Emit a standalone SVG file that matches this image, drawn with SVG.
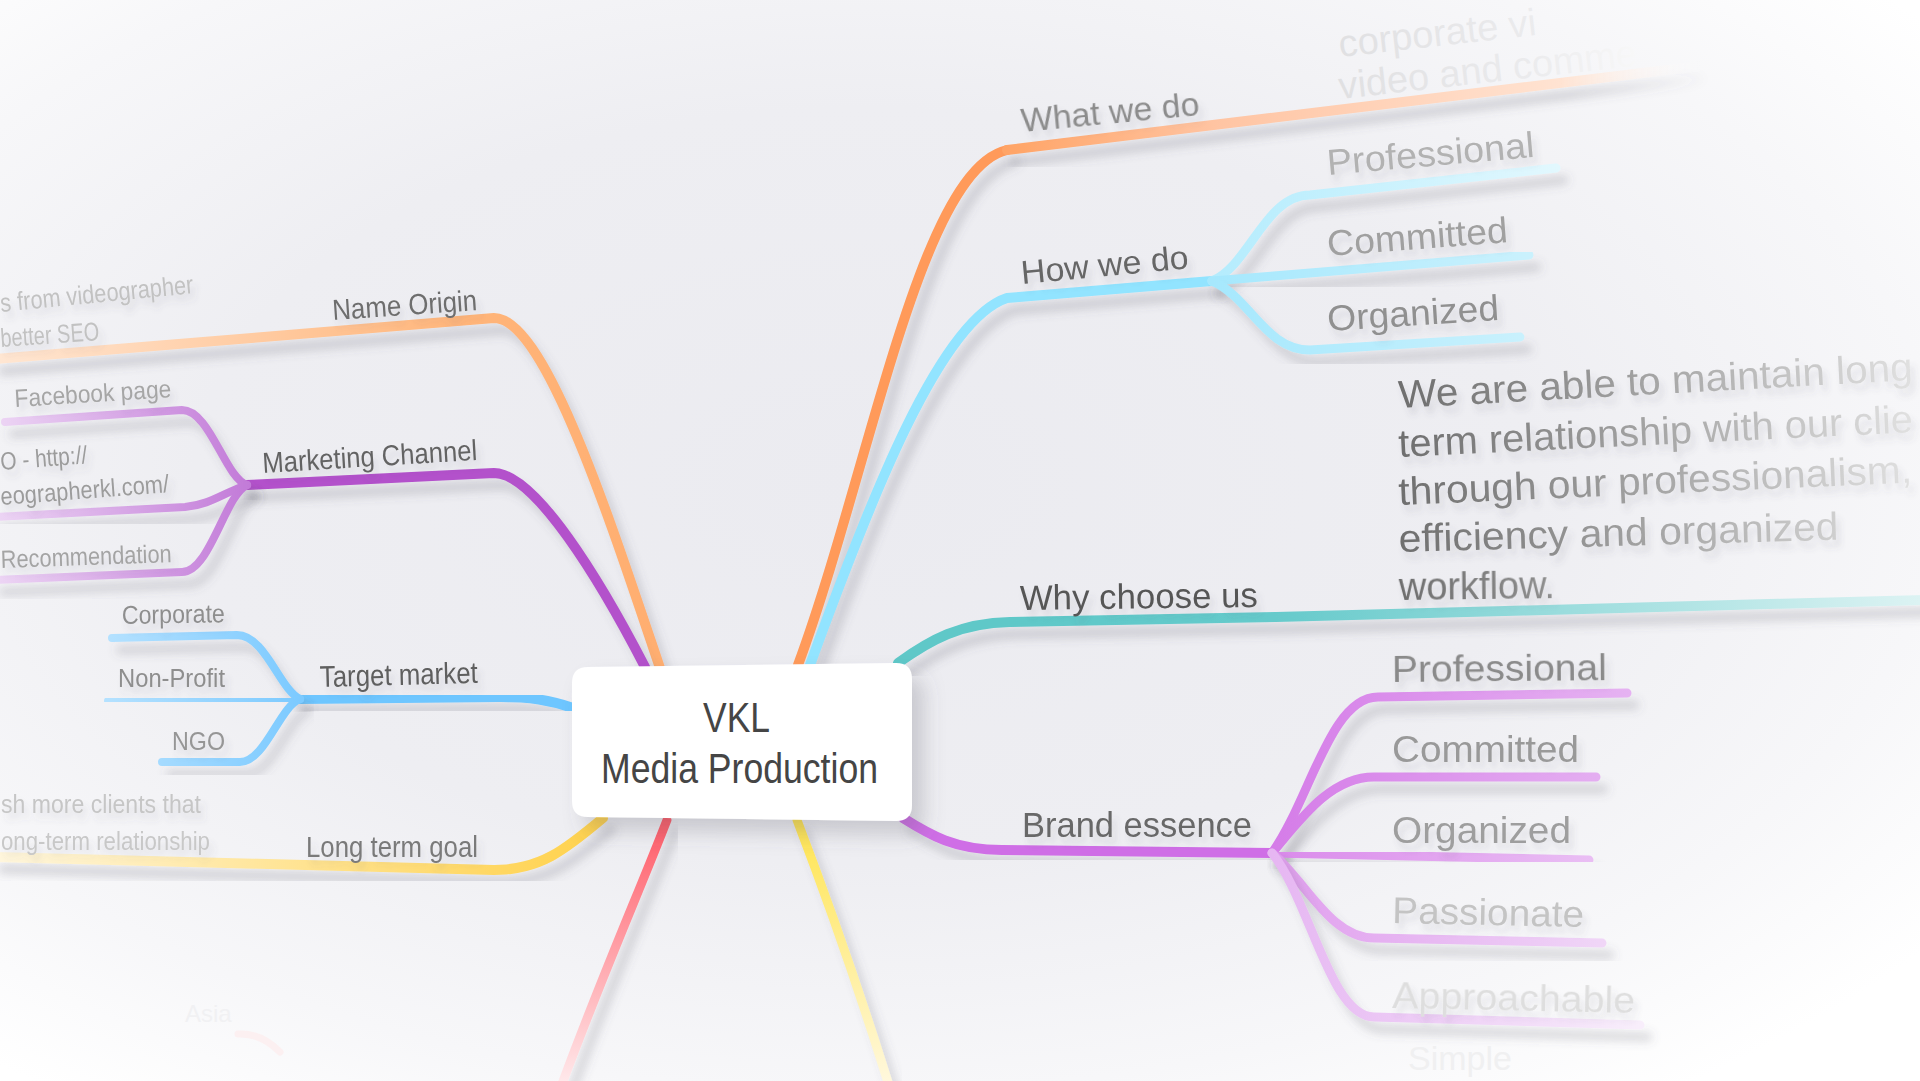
<svg xmlns="http://www.w3.org/2000/svg" width="1920" height="1081" viewBox="0 0 1920 1081">
<defs>
  <radialGradient id="bg" cx="0.45" cy="0.45" r="0.7">
    <stop offset="0" stop-color="#ebebf0"/>
    <stop offset="0.5" stop-color="#eeeef2"/>
    <stop offset="0.8" stop-color="#f7f7f9"/>
    <stop offset="1" stop-color="#ffffff"/>
  </radialGradient>
  <filter id="lineShadow" x="-10%" y="-10%" width="120%" height="130%">
    <feDropShadow dx="8" dy="12" stdDeviation="5" flood-color="#5a5a6a" flood-opacity="0.22"/>
  </filter>
  <filter id="textShadow" x="-10%" y="-20%" width="130%" height="160%">
    <feDropShadow dx="4" dy="7" stdDeviation="3" flood-color="#5a5a6a" flood-opacity="0.15"/>
  </filter>
  <filter id="nodeShadow" x="-20%" y="-20%" width="150%" height="160%">
    <feDropShadow dx="12" dy="14" stdDeviation="10" flood-color="#5a5a6a" flood-opacity="0.25"/>
  </filter>
  <linearGradient id="gName" gradientUnits="userSpaceOnUse" x1="0" y1="0" x2="660" y2="0">
    <stop offset="0" stop-color="#ffe6d2"/>
    <stop offset="0.7" stop-color="#ffb57a"/>
    <stop offset="1" stop-color="#ffae70"/>
  </linearGradient>
  <linearGradient id="gMk" gradientUnits="userSpaceOnUse" x1="0" y1="0" x2="250" y2="0">
    <stop offset="0" stop-color="#ecd4f4"/>
    <stop offset="1" stop-color="#c27ad8"/>
  </linearGradient>
  <linearGradient id="gTk" gradientUnits="userSpaceOnUse" x1="100" y1="0" x2="300" y2="0">
    <stop offset="0" stop-color="#b6e2ff"/>
    <stop offset="1" stop-color="#7ccaff"/>
  </linearGradient>
  <linearGradient id="gLong" gradientUnits="userSpaceOnUse" x1="0" y1="0" x2="600" y2="0">
    <stop offset="0" stop-color="#fff6dc"/>
    <stop offset="0.8" stop-color="#ffd866"/>
    <stop offset="1" stop-color="#ffd24d"/>
  </linearGradient>
  <linearGradient id="gRed" gradientUnits="userSpaceOnUse" x1="0" y1="820" x2="0" y2="1081">
    <stop offset="0" stop-color="#ff5a66"/>
    <stop offset="1" stop-color="#ffe8ea"/>
  </linearGradient>
  <linearGradient id="gYel" gradientUnits="userSpaceOnUse" x1="0" y1="820" x2="0" y2="1081">
    <stop offset="0" stop-color="#ffe44f"/>
    <stop offset="1" stop-color="#fff8dc"/>
  </linearGradient>
  <linearGradient id="gWhat" gradientUnits="userSpaceOnUse" x1="1007" y1="0" x2="1700" y2="0">
    <stop offset="0" stop-color="#ffa466"/>
    <stop offset="0.3" stop-color="#ffc4a2"/>
    <stop offset="0.8" stop-color="#ffe3d2"/>
    <stop offset="1" stop-color="#ffffff" stop-opacity="0"/>
  </linearGradient>
  <linearGradient id="gHowK" gradientUnits="userSpaceOnUse" x1="1212" y1="0" x2="1560" y2="0">
    <stop offset="0" stop-color="#a6e8fd"/>
    <stop offset="1" stop-color="#cdf2fd"/>
  </linearGradient>
  <linearGradient id="gHowP" gradientUnits="userSpaceOnUse" x1="1212" y1="0" x2="1560" y2="0">
    <stop offset="0" stop-color="#b4ecfd"/>
    <stop offset="1" stop-color="#e2f8fe"/>
  </linearGradient>
  <linearGradient id="gWhy" gradientUnits="userSpaceOnUse" x1="1000" y1="0" x2="1920" y2="0">
    <stop offset="0" stop-color="#5ec8c8"/>
    <stop offset="0.3" stop-color="#66cacb"/>
    <stop offset="1" stop-color="#dcf3f3"/>
  </linearGradient>
  <linearGradient id="gB1" gradientUnits="userSpaceOnUse" x1="1272" y1="0" x2="1640" y2="0">
    <stop offset="0" stop-color="#d57ce8"/>
    <stop offset="1" stop-color="#e6b4f2"/>
  </linearGradient>
  <linearGradient id="gB2" gradientUnits="userSpaceOnUse" x1="1272" y1="0" x2="1640" y2="0">
    <stop offset="0" stop-color="#da8aeb"/>
    <stop offset="1" stop-color="#ecc6f5"/>
  </linearGradient>
  <linearGradient id="gB3" gradientUnits="userSpaceOnUse" x1="1272" y1="0" x2="1640" y2="0">
    <stop offset="0" stop-color="#e09eee"/>
    <stop offset="1" stop-color="#f2dcf8"/>
  </linearGradient>
  <linearGradient id="gB4" gradientUnits="userSpaceOnUse" x1="1272" y1="0" x2="1640" y2="0">
    <stop offset="0" stop-color="#e6b6f2"/>
    <stop offset="1" stop-color="#f8eefb"/>
  </linearGradient>
  <linearGradient id="gPara" gradientUnits="userSpaceOnUse" x1="1400" y1="0" x2="1920" y2="0">
    <stop offset="0" stop-color="#6e6e6e"/>
    <stop offset="0.45" stop-color="#a0a0a0"/>
    <stop offset="1" stop-color="#e2e2e2"/>
  </linearGradient>
  <linearGradient id="gTop" gradientUnits="userSpaceOnUse" x1="1340" y1="0" x2="1660" y2="0">
    <stop offset="0" stop-color="#e0e0e2"/>
    <stop offset="0.6" stop-color="#ebebed"/>
    <stop offset="1" stop-color="#fafafa"/>
  </linearGradient>
  <style>
    text { font-family: "Liberation Sans", Arial, sans-serif; }
    .lbl { filter: url(#textShadow); }
    .c { filter: url(#lineShadow); fill: none; stroke-linecap: round; stroke-linejoin: round; }
    .faint { fill: none; stroke-linecap: round; }
  </style>
</defs>

<rect x="0" y="0" width="1920" height="1081" fill="url(#bg)"/>

<g id="connectors">
  <!-- left -->
  <path class="c" d="M 660,668 C 610,520 545,318 494,318 L -5,359" stroke="url(#gName)" stroke-width="10"/>
  <path class="c" d="M 645,667 C 600,580 535,473 494,473 L 247,485" stroke="#b351cb" stroke-width="10"/>
  <path class="c" d="M 247,485 C 225,478 210,410 182,410 L 5,422" stroke="url(#gMk)" stroke-width="8"/>
  <path class="c" d="M 247,485 C 225,492 210,505 185,507 L -5,517" stroke="url(#gMk)" stroke-width="8"/>
  <path class="c" d="M 247,485 C 225,495 210,572 182,572 L -5,580" stroke="url(#gMk)" stroke-width="8"/>
  <path class="c" d="M 573,708 C 550,700 530,697 500,697 L 300,699" stroke="#6ec6ff" stroke-width="10"/>
  <path class="c" d="M 300,699 C 280,690 265,635 237,635 L 112,638" stroke="url(#gTk)" stroke-width="8"/>
  <path class="c" d="M 300,699 L 108,701" stroke="url(#gTk)" stroke-width="8"/>
  <path class="c" d="M 300,699 C 280,706 265,762 240,762 L 162,762" stroke="url(#gTk)" stroke-width="8"/>
  <path class="c" d="M 603,818 C 565,850 540,870 494,870 L -5,857" stroke="url(#gLong)" stroke-width="10"/>
  <path class="c" d="M 667,820 C 640,890 600,980 558,1095" stroke="url(#gRed)" stroke-width="9"/>
  <path class="faint" d="M 238,1034 C 255,1033 268,1040 280,1052" stroke="#fcf0f1" stroke-width="7"/>
  <path class="c" d="M 797,820 C 820,880 850,960 892,1095" stroke="url(#gYel)" stroke-width="9"/>
  <!-- right -->
  <path class="c" d="M 798,665 C 870,470 920,170 1007,150" stroke="#ff9a5a" stroke-width="10"/>
  <path class="c" d="M 1007,150 L 1700,66" stroke="url(#gWhat)" stroke-width="10"/>
  <path class="c" d="M 810,665 C 870,500 940,320 1007,298 L 1212,281" stroke="#92e4ff" stroke-width="10"/>
  <path class="c" d="M 1212,281 C 1250,265 1265,195 1310,195 L 1556,168" stroke="url(#gHowP)" stroke-width="9"/>
  <path class="c" d="M 1212,281 L 1529,255" stroke="url(#gHowK)" stroke-width="9"/>
  <path class="c" d="M 1212,281 C 1250,297 1265,350 1310,350 L 1520,337" stroke="url(#gHowK)" stroke-width="9"/>
  <path class="c" d="M 898,663 C 930,640 960,623 1010,622 L 1276,617 L 1925,600" stroke="url(#gWhy)" stroke-width="10"/>
  <path class="c" d="M 903,818 C 930,835 955,850 1002,850 L 1272,853" stroke="#cf6ee6" stroke-width="10"/>
  <path class="c" d="M 1272,853 C 1310,800 1330,697 1378,697 L 1627,693" stroke="url(#gB1)" stroke-width="9"/>
  <path class="c" d="M 1272,853 C 1300,820 1330,777 1374,777 L 1596,777" stroke="url(#gB1)" stroke-width="9"/>
  <path class="c" d="M 1272,853 L 1589,860" stroke="url(#gB2)" stroke-width="9"/>
  <path class="c" d="M 1272,853 C 1305,880 1330,938 1374,938 L 1602,943" stroke="url(#gB3)" stroke-width="9"/>
  <path class="c" d="M 1272,853 C 1310,900 1330,1017 1374,1017 L 1640,1025" stroke="url(#gB4)" stroke-width="9"/>
</g>

<g id="node-center">
  <path d="M 588,667 L 896,663 Q 912,663 912,679 L 912,805 Q 912,821 896,821 L 588,817 Q 572,817 572,801 L 572,683 Q 572,667 588,667 Z" fill="#ffffff" filter="url(#nodeShadow)"/>
  <text x="703" y="732" font-size="42" fill="#454545" textLength="67" lengthAdjust="spacingAndGlyphs">VKL</text>
  <text x="601" y="783" font-size="42" fill="#454545" textLength="277" lengthAdjust="spacingAndGlyphs">Media Production</text>
</g>

<g id="node-name-origin" class="lbl">
  <text x="333" y="320" font-size="29" fill="#6e6e6e" textLength="145" lengthAdjust="spacingAndGlyphs" transform="rotate(-3.9 333 320)">Name Origin</text>
  <text x="1" y="312" font-size="26" fill="#c2c2c2" textLength="194" lengthAdjust="spacingAndGlyphs" transform="rotate(-5.6 1 312)">s from videographer</text>
  <text x="1" y="347" font-size="26" fill="#c2c2c2" textLength="99" lengthAdjust="spacingAndGlyphs" transform="rotate(-4 1 347)">better SEO</text>
</g>
<g id="node-marketing" class="lbl">
  <text x="263" y="473" font-size="29" fill="#646464" textLength="215" lengthAdjust="spacingAndGlyphs" transform="rotate(-3.5 263 473)">Marketing Channel</text>
  <text x="15" y="407" font-size="25" fill="#a6a6a6" textLength="157" lengthAdjust="spacingAndGlyphs" transform="rotate(-3.6 15 407)">Facebook page</text>
  <text x="1" y="470" font-size="25" fill="#9c9c9c" textLength="87" lengthAdjust="spacingAndGlyphs" transform="rotate(-4.5 1 470)">O - http://</text>
  <text x="1" y="505" font-size="25" fill="#9c9c9c" textLength="169" lengthAdjust="spacingAndGlyphs" transform="rotate(-4.4 1 505)">eographerkl.com/</text>
  <text x="1" y="568" font-size="25" fill="#a4a4a4" textLength="171" lengthAdjust="spacingAndGlyphs" transform="rotate(-2 1 568)">Recommendation</text>
</g>
<g id="node-target" class="lbl">
  <text x="320" y="687" font-size="30" fill="#5e5e5e" textLength="158" lengthAdjust="spacingAndGlyphs" transform="rotate(-1.5 320 687)">Target market</text>
  <text x="122" y="624" font-size="26" fill="#8e8e8e" textLength="103" lengthAdjust="spacingAndGlyphs" transform="rotate(-1 122 624)">Corporate</text>
  <text x="118" y="687" font-size="26" fill="#8e8e8e" textLength="107" lengthAdjust="spacingAndGlyphs">Non-Profit</text>
  <text x="172" y="750" font-size="26" fill="#969696" textLength="53" lengthAdjust="spacingAndGlyphs">NGO</text>
</g>
<g id="node-long-term" class="lbl">
  <text x="306" y="857" font-size="30" fill="#7a7a7a" textLength="172" lengthAdjust="spacingAndGlyphs">Long term goal</text>
  <text x="1" y="813" font-size="26" fill="#c6c6c6" textLength="200" lengthAdjust="spacingAndGlyphs">sh more clients that</text>
  <text x="1" y="850" font-size="26" fill="#c8c8c8" textLength="209" lengthAdjust="spacingAndGlyphs">ong-term relationship</text>
</g>
<g id="node-asia">
  <text x="185" y="1022" font-size="24" fill="#f1f1f3">Asia</text>
</g>
<g id="node-what">
  <text class="lbl" x="1022" y="132" font-size="33" fill="#8c8c8c" textLength="179" lengthAdjust="spacingAndGlyphs" transform="rotate(-5.4 1022 132)">What we do</text>
  <text x="1340" y="57" font-size="38" fill="url(#gTop)" transform="rotate(-6.4 1340 57)">corporate vi</text>
  <text x="1340" y="99" font-size="38" fill="url(#gTop)" transform="rotate(-6.4 1340 99)">video and comme</text>
</g>
<g id="node-how" class="lbl">
  <text x="1022" y="284" font-size="33" fill="#666666" textLength="168" lengthAdjust="spacingAndGlyphs" transform="rotate(-5.4 1022 284)">How we do</text>
  <text x="1328" y="175" font-size="36" fill="#b2b2b2" textLength="208" lengthAdjust="spacingAndGlyphs" transform="rotate(-5 1328 175)">Professional</text>
  <text x="1328" y="256" font-size="36" fill="#a0a0a0" textLength="181" lengthAdjust="spacingAndGlyphs" transform="rotate(-4.4 1328 256)">Committed</text>
  <text x="1328" y="331" font-size="36" fill="#909090" textLength="172" lengthAdjust="spacingAndGlyphs" transform="rotate(-3.7 1328 331)">Organized</text>
</g>
<g id="node-why" class="lbl">
  <text x="1020" y="610" font-size="35" fill="#575757" textLength="238" lengthAdjust="spacingAndGlyphs" transform="rotate(-0.7 1020 610)">Why choose us</text>
  <text x="1399" y="408" font-size="39" fill="url(#gPara)" textLength="515" lengthAdjust="spacingAndGlyphs" transform="rotate(-3.1 1399 408)">We are able to maintain long</text>
  <text x="1399" y="457" font-size="39" fill="url(#gPara)" textLength="515" lengthAdjust="spacingAndGlyphs" transform="rotate(-2.75 1399 457)">term relationship with our clie</text>
  <text x="1399" y="505" font-size="39" fill="url(#gPara)" textLength="514" lengthAdjust="spacingAndGlyphs" transform="rotate(-2.5 1399 505)">through our professionalism,</text>
  <text x="1399" y="552" font-size="39" fill="url(#gPara)" textLength="440" lengthAdjust="spacingAndGlyphs" transform="rotate(-1.6 1399 552)">efficiency and organized</text>
  <text x="1399" y="600" font-size="39" fill="url(#gPara)" textLength="156" lengthAdjust="spacingAndGlyphs" transform="rotate(-0.7 1399 600)">workflow.</text>
</g>
<g id="node-brand" class="lbl">
  <text x="1022" y="837" font-size="35" fill="#676767" textLength="230" lengthAdjust="spacingAndGlyphs">Brand essence</text>
  <text x="1392" y="682" font-size="37" fill="#8a8a8a" textLength="215" lengthAdjust="spacingAndGlyphs" transform="rotate(-0.5 1392 682)">Professional</text>
  <text x="1392" y="762" font-size="37" fill="#999999" textLength="187" lengthAdjust="spacingAndGlyphs">Committed</text>
  <text x="1392" y="843" font-size="37" fill="#9e9e9e" textLength="179" lengthAdjust="spacingAndGlyphs">Organized</text>
  <text x="1392" y="923" font-size="37" fill="#c4c4c4" textLength="192" lengthAdjust="spacingAndGlyphs" transform="rotate(1.2 1392 923)">Passionate</text>
  <text x="1392" y="1008" font-size="37" fill="#dedede" textLength="243" lengthAdjust="spacingAndGlyphs" transform="rotate(1.2 1392 1008)">Approachable</text>
</g>
<g id="node-simple">
  <text x="1408" y="1070" font-size="34" fill="#f0f0f1">Simple</text>
</g>
</svg>
